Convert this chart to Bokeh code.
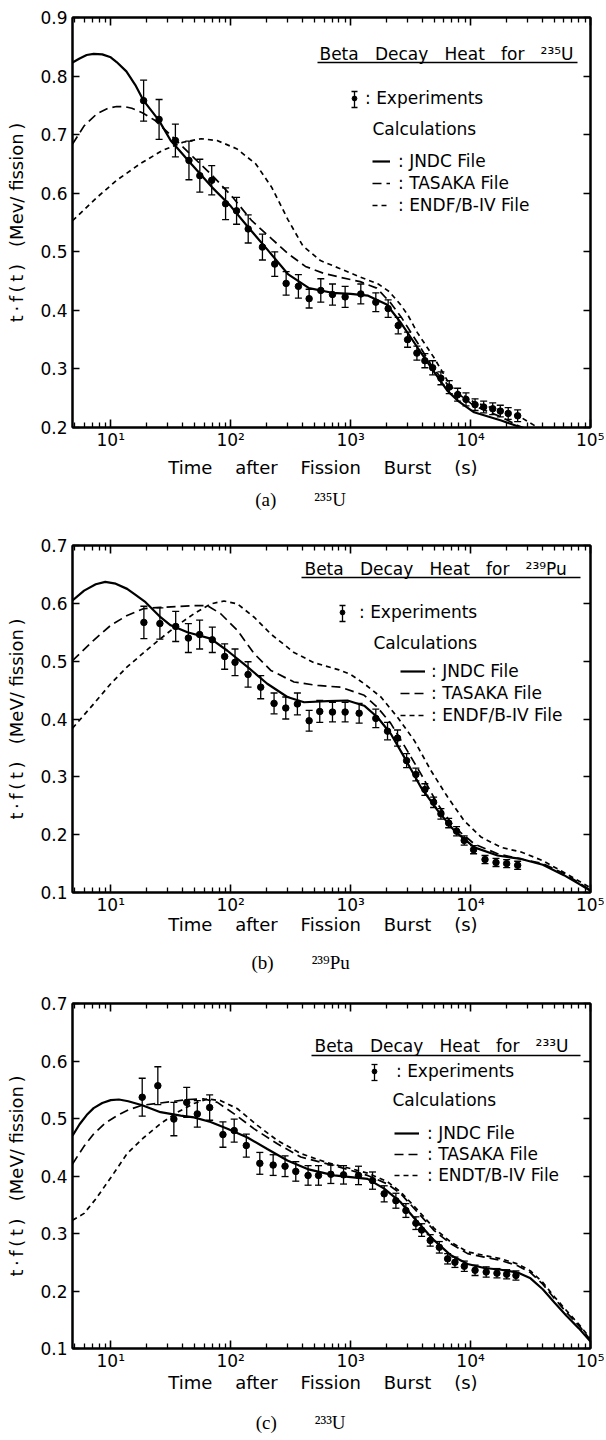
import math
from bokeh.plotting import figure
from bokeh.models import (Range1d, FixedTicker, LinearAxis, LogAxis, Whisker, TeeHead,
                          ColumnDataSource, Label, Arrow, Legend, LegendItem,
                          PrintfTickFormatter, CustomJSTickFormatter)
from bokeh.layouts import column
from bokeh.embed import file_html
from bokeh.resources import INLINE

# ---------------- data ----------------
X_START, X_END = 4.8, 1.0e5

# (a) 235U
A_EXP_T = [18.8, 25.3, 34.6, 44.9, 55.3, 69.5, 90.7, 112, 140, 184, 233, 290, 367, 451, 564, 706, 900,
           1216, 1622, 2056, 2494, 2985, 3570, 4160, 4830, 5660, 6640, 7800, 9160, 10900, 12860, 15300,
           17700, 20600, 24700]
A_EXP_V = [0.758, 0.726, 0.690, 0.656, 0.630, 0.622, 0.582, 0.570, 0.539, 0.508, 0.479, 0.446, 0.441,
           0.420, 0.434, 0.427, 0.423, 0.428, 0.414, 0.403, 0.374, 0.350, 0.327, 0.314, 0.302, 0.284,
           0.269, 0.256, 0.248, 0.239, 0.235, 0.232, 0.228, 0.224, 0.220]
A_EXP_E = [0.035, 0.034, 0.028, 0.033, 0.028, 0.025, 0.027, 0.023, 0.024, 0.022, 0.021, 0.020, 0.020,
           0.016, 0.020, 0.018, 0.018, 0.017, 0.016, 0.015, 0.014, 0.013, 0.012, 0.012, 0.012, 0.011,
           0.011, 0.011, 0.011, 0.010, 0.010, 0.010, 0.010, 0.010, 0.010]
A_JNDC_T = [4.8, 5.5, 6.3, 7.2, 8.5, 10, 11.2, 13.5, 16, 18.8, 25.3, 31.6, 45, 70, 100, 140, 200, 300,
            450, 700, 1000, 1400, 2000, 2600, 3600, 5000, 6400, 7800, 10700, 18000, 24700, 30000]
A_JNDC_V = [0.823, 0.830, 0.836, 0.838, 0.837, 0.832, 0.824, 0.808, 0.785, 0.758, 0.724, 0.690, 0.654,
            0.610, 0.578, 0.542, 0.505, 0.462, 0.438, 0.430, 0.428, 0.425, 0.410, 0.380, 0.337, 0.294,
            0.263, 0.246, 0.226, 0.212, 0.202, 0.195]
A_TASAKA_T = [4.8, 6, 7.7, 9.5, 11.2, 13, 15, 18.5, 23.5, 34, 49, 72, 104, 150, 220, 300, 420, 600, 800,
              1200, 1650, 2150, 2650, 3600, 5000, 6800, 10700, 18000, 25000, 30000]
A_TASAKA_V = [0.684, 0.715, 0.736, 0.745, 0.748, 0.748, 0.745, 0.737, 0.724, 0.693, 0.661, 0.628, 0.593,
              0.553, 0.522, 0.497, 0.475, 0.463, 0.457, 0.449, 0.438, 0.413, 0.388, 0.345, 0.298,
              0.268, 0.237, 0.218, 0.203, 0.197]
A_ENDF_T = [4.8, 7.7, 11.2, 17.5, 27, 40, 57, 77, 112, 162, 220, 300, 400, 560, 800, 1200, 1700, 2100,
            2600, 3000, 3600, 5000, 6900, 10700, 18000, 26000, 35000, 40000]
A_ENDF_V = [0.553, 0.593, 0.622, 0.650, 0.673, 0.687, 0.693, 0.690, 0.676, 0.650, 0.610, 0.555, 0.510,
            0.485, 0.472, 0.457, 0.445, 0.432, 0.410, 0.392, 0.362, 0.318, 0.269, 0.243, 0.229, 0.218,
            0.202, 0.196]

# (b) 239Pu
B_EXP_T = [18.9, 25.7, 34.8, 44.4, 55.1, 70.3, 89.1, 108.7, 139.6, 178, 230, 288, 360, 451, 553, 706,
           900, 1178, 1622, 2031, 2462, 2930, 3500, 4160, 4920, 5660, 6570, 7650, 8850, 10600, 13200,
           16300, 20000, 24700]
B_EXP_V = [0.567, 0.565, 0.560, 0.540, 0.546, 0.537, 0.508, 0.498, 0.477, 0.455, 0.427, 0.419, 0.426,
           0.397, 0.413, 0.412, 0.412, 0.410, 0.401, 0.379, 0.367, 0.328, 0.304, 0.278, 0.256, 0.236,
           0.220, 0.206, 0.190, 0.174, 0.157, 0.152, 0.150, 0.147]
B_EXP_E = [0.028, 0.027, 0.026, 0.025, 0.025, 0.022, 0.022, 0.023, 0.022, 0.020, 0.018, 0.019, 0.019,
           0.018, 0.019, 0.017, 0.017, 0.017, 0.016, 0.015, 0.014, 0.012, 0.011, 0.010, 0.009, 0.009,
           0.008, 0.008, 0.008, 0.007, 0.007, 0.007, 0.007, 0.007]
B_JNDC_T = [4.8, 6, 7.5, 9, 11, 13.7, 16, 19.5, 26, 31.6, 43.6, 68, 94, 138, 202, 297, 409, 641, 942,
            1298, 1675, 2168, 2800, 3855, 5310, 7310, 10740, 16800, 26400, 40000, 60000, 80000, 100000]
B_JNDC_V = [0.605, 0.622, 0.633, 0.637, 0.634, 0.625, 0.615, 0.602, 0.576, 0.562, 0.550, 0.539, 0.518,
            0.490, 0.461, 0.438, 0.429, 0.431, 0.432, 0.423, 0.403, 0.374, 0.334, 0.282, 0.242, 0.207,
            0.178, 0.164, 0.158, 0.148, 0.130, 0.115, 0.103]
B_TASAKA_T = [4.8, 7.2, 10, 13.7, 18.9, 26, 49.4, 64, 82.6, 114, 157, 216, 337, 530, 828, 1298, 1675,
              2168, 2800, 3855, 5310, 7310, 10740, 16800, 26400, 40000, 60000, 80000, 100000]
B_TASAKA_V = [0.501, 0.536, 0.562, 0.579, 0.591, 0.593, 0.596, 0.596, 0.582, 0.553, 0.513, 0.484,
              0.464, 0.458, 0.455, 0.441, 0.420, 0.392, 0.354, 0.305, 0.253, 0.213, 0.184, 0.167,
              0.158, 0.150, 0.133, 0.117, 0.104]
B_ENDF_T = [4.8, 7.2, 10, 13.7, 18.9, 26, 35.9, 49.4, 68, 88, 114, 157, 216, 337, 500, 800, 1000, 1300,
            1790, 2460, 3390, 4670, 6440, 8850, 12200, 17950, 26400, 40000, 70000, 100000]
B_ENDF_V = [0.384, 0.426, 0.461, 0.490, 0.515, 0.539, 0.562, 0.582, 0.599, 0.604, 0.599, 0.576, 0.547,
            0.515, 0.497, 0.485, 0.477, 0.461, 0.438, 0.403, 0.363, 0.311, 0.265, 0.224, 0.196, 0.178,
            0.170, 0.155, 0.127, 0.108]

# (c) 233U
C_EXP_T = [18.3, 24.7, 33.6, 43, 52.7, 66.8, 86.2, 107, 135, 175, 226, 284, 349, 442, 540, 684, 873,
           1164, 1523, 1905, 2385, 2890, 3500, 3910, 4610, 5490, 6440, 7410, 8870, 10900, 13500, 16600,
           20000, 23900]
C_EXP_V = [0.537, 0.557, 0.499, 0.528, 0.508, 0.519, 0.472, 0.479, 0.453, 0.422, 0.419, 0.417, 0.408,
           0.401, 0.401, 0.403, 0.402, 0.401, 0.392, 0.369, 0.357, 0.340, 0.318, 0.306, 0.288, 0.276,
           0.256, 0.250, 0.243, 0.236, 0.233, 0.231, 0.229, 0.227]
C_EXP_E = [0.033, 0.033, 0.029, 0.026, 0.023, 0.022, 0.022, 0.020, 0.020, 0.019, 0.018, 0.018, 0.017,
           0.017, 0.017, 0.016, 0.016, 0.016, 0.015, 0.014, 0.013, 0.012, 0.011, 0.011, 0.010, 0.010,
           0.009, 0.009, 0.009, 0.009, 0.009, 0.008, 0.008, 0.008]
C_JNDC_T = [4.8, 5.5, 6.3, 7.2, 8.5, 10, 11.7, 14, 18.3, 26, 38.3, 49.4, 68, 94, 138, 202, 297, 437,
            728, 1384, 1905, 2624, 3614, 4977, 6855, 9460, 13000, 17950, 24700, 31600, 40000, 50000,
            63000, 80000, 100000]
C_JNDC_V = [0.470, 0.490, 0.506, 0.518, 0.527, 0.532, 0.533, 0.530, 0.523, 0.511, 0.505, 0.502, 0.494,
            0.482, 0.467, 0.447, 0.427, 0.412, 0.401, 0.395, 0.378, 0.354, 0.320, 0.288, 0.262, 0.247,
            0.240, 0.237, 0.232, 0.222, 0.203, 0.180, 0.157, 0.135, 0.112]
C_TASAKA_T = [4.8, 6, 7.2, 9, 11.3, 14, 18.3, 26, 43.6, 60, 77.5, 107, 157, 245, 384, 641, 1000, 1384,
              2031, 2624, 3614, 4977, 6855, 9460, 13000, 17950, 24700, 31600, 40000, 50000, 63000,
              80000, 100000]
C_TASAKA_V = [0.421, 0.452, 0.473, 0.492, 0.505, 0.515, 0.523, 0.527, 0.533, 0.534, 0.528, 0.508,
              0.482, 0.456, 0.433, 0.421, 0.410, 0.401, 0.386, 0.369, 0.337, 0.305, 0.282, 0.265,
              0.259, 0.253, 0.244, 0.232, 0.212, 0.187, 0.163, 0.140, 0.115]
C_ENDF_T = [4.8, 6, 7.5, 10, 13.7, 18.9, 26, 36, 49.4, 64, 82.6, 114, 167, 245, 384, 641, 1000, 1384,
            2031, 2624, 3614, 4977, 6855, 9460, 13000, 17950, 24700, 31600, 40000, 50000, 63000, 80000,
            100000]
C_ENDF_V = [0.323, 0.335, 0.360, 0.397, 0.439, 0.467, 0.491, 0.511, 0.526, 0.534, 0.531, 0.517, 0.488,
            0.462, 0.439, 0.423, 0.413, 0.405, 0.390, 0.372, 0.341, 0.309, 0.285, 0.268, 0.262, 0.256,
            0.247, 0.235, 0.215, 0.190, 0.166, 0.142, 0.117]

X_TICK_LABELS = ["10\u00b9", "10\u00b2", "10\u00b3", "10\u2074", "10\u2075"]

# ---------------- styling / layout ----------------
FONT = "DejaVu Sans"
SERIF = "Liberation Serif"
NB = "\u00a0"
TH = "\u2009"
EM = "\u2003"
X_LABEL = (NB * 4).join(["Time", "after", "Fission", "Burst", "(s)"]) + NB * 3


def style_axis(ax, major_in, minor_in, show_minor=True):
    ax.major_tick_in = major_in
    ax.major_tick_out = 0
    ax.minor_tick_in = minor_in
    ax.minor_tick_out = 0
    ax.axis_line_width = 2
    ax.axis_line_color = "black"
    ax.major_tick_line_width = 1.6
    ax.major_tick_line_color = "black"
    ax.minor_tick_line_width = 1.3
    ax.minor_tick_line_color = "black" if show_minor else None
    ax.major_label_text_font = FONT
    ax.major_label_text_font_size = "17px"
    ax.major_label_text_color = "black"


def make_panel(exp_t, exp_v, exp_e, curves, y0, y1, frame_h, top, bottom, ylabel, caption, L):
    p = figure(x_axis_type="log", x_range=Range1d(X_START, X_END), y_range=Range1d(y0, y1),
               frame_width=518, frame_height=frame_h, min_border_left=72, min_border_right=14,
               min_border_top=top, min_border_bottom=bottom, toolbar_location=None,
               output_backend="svg", background_fill_color="white", border_fill_color="white")
    p.grid.visible = False
    p.outline_line_color = "black"
    p.outline_line_width = 2

    decades = [10.0 ** k for k in range(1, 6)]
    minors = [m * 10.0 ** k for k in range(0, 5) for m in range(2, 10) if X_START <= m * 10.0 ** k <= X_END]
    xt = FixedTicker(ticks=decades, minor_ticks=minors)
    nt = int(round((y1 - y0) / 0.1))
    yt = FixedTicker(ticks=[round(y0 + 0.1 * k, 3) for k in range(nt + 1)], minor_ticks=[])
    empty = CustomJSTickFormatter(code="return ''")

    xa = p.xaxis[0]
    xa.ticker = xt
    xa.major_label_overrides = {d: lab for d, lab in zip(decades, X_TICK_LABELS)}
    style_axis(xa, 8, 5)
    xa.major_label_standoff = 2
    xa.axis_label = X_LABEL
    xa.axis_label_text_font = FONT
    xa.axis_label_text_font_size = "18px"
    xa.axis_label_text_font_style = "normal"
    xa.axis_label_text_color = "black"
    xa.axis_label_standoff = L["xl_off"]

    # caption "(a) 235U" as the title of a tick-less axis under the x axis
    ca = LogAxis(ticker=FixedTicker(ticks=[], minor_ticks=[]), formatter=empty,
                 axis_line_color=None, major_tick_line_color=None, minor_tick_line_color=None,
                 major_label_standoff=0, axis_label=caption, axis_label_text_font=SERIF,
                 axis_label_text_font_size="19px", axis_label_text_font_style="normal",
                 axis_label_text_color="black", axis_label_standoff=L["cap_off"])
    p.add_layout(ca, "below")

    ya = p.yaxis[0]
    ya.ticker = yt
    ya.formatter = PrintfTickFormatter(format="%.1f")
    style_axis(ya, 7, 0, show_minor=False)
    ya.major_label_standoff = 5
    ya.axis_label = ylabel
    ya.axis_label_text_font = FONT
    ya.axis_label_text_font_size = "18px"
    ya.axis_label_text_font_style = "normal"
    ya.axis_label_text_color = "black"
    ya.axis_label_standoff = 10

    ta = LogAxis(ticker=xt, formatter=empty)
    style_axis(ta, 8, 5)
    ta.major_label_standoff = 0
    p.add_layout(ta, "above")
    ra = LinearAxis(ticker=yt, formatter=empty)
    style_axis(ra, 7, 0, show_minor=False)
    ra.major_label_standoff = 0
    p.add_layout(ra, "right")

    # calculated curves
    renderers = []
    for (ct, cv, dash, lw) in curves:
        r = p.line(ct, cv, line_color="black", line_width=lw, line_dash=dash)
        renderers.append(r)

    # experiments
    src = ColumnDataSource(dict(t=exp_t, v=exp_v,
                                hi=[v + e for v, e in zip(exp_v, exp_e)],
                                lo=[v - e for v, e in zip(exp_v, exp_e)]))
    wk = Whisker(source=src, base="t", upper="hi", lower="lo", dimension="height",
                 line_color="black", line_width=1.3,
                 upper_head=TeeHead(size=7, line_width=1.3, line_color="black"),
                 lower_head=TeeHead(size=7, line_width=1.3, line_color="black"))
    p.add_layout(wk)
    r_pts = p.scatter("t", "v", source=src, size=6.5, color="black")

    # legend block
    txt = dict(x_units="screen", y_units="screen", text_font=FONT, text_font_size="17px",
               text_baseline="middle", text_color="black")
    p.add_layout(Label(x=L["head_x"], y=L["head_y"], text=L["head"], **txt))
    p.add_layout(Arrow(x_start=L["ul_x0"], y_start=L["ul_y"], x_end=L["ul_x1"], y_end=L["ul_y"],
                       start_units="screen", end_units="screen", end=None,
                       line_color="black", line_width=1.5))
    p.add_layout(Label(x=L["calc_x"], y=L["calc_y"], text="Calculations", **txt))

    # error-bar symbol of the "Experiments" key
    ex, ey = L["exp_x"], L["exp_y"]
    p.add_layout(Arrow(x_start=ex, y_start=ey - 8, x_end=ex, y_end=ey + 8,
                       start_units="screen", end_units="screen",
                       start=TeeHead(size=6, line_width=1.3, line_color="black"),
                       end=TeeHead(size=6, line_width=1.3, line_color="black"),
                       line_color="black", line_width=1.3))

    leg_common = dict(orientation="vertical", padding=0, margin=0, border_line_color=None,
                      background_fill_alpha=0, label_text_font=FONT, label_text_font_size="17px",
                      label_text_color="black", glyph_height=18, label_height=18)
    exp_leg = Legend(items=[LegendItem(label=": Experiments", renderers=[r_pts])],
                     location=(ex - 6, ey - 9), glyph_width=12,
                     label_standoff=L["exp_gap"], spacing=0, **leg_common)
    p.add_layout(exp_leg)
    names = [": JNDC File", ": TASAKA File", L["endf"]]
    calc_leg = Legend(items=[LegendItem(label=n, renderers=[r]) for n, r in zip(names, renderers)],
                      location=(L["line_x"], L["line_y"] - 10), glyph_width=L["line_w"],
                      label_standoff=L["line_gap"], spacing=int(round(L["pitch"] - 20)), **leg_common)
    p.add_layout(calc_leg)
    return p


SUP = str.maketrans("0123456789", "\u2070\u00b9\u00b2\u00b3\u2074\u2075\u2076\u2077\u2078\u2079")
HEAD = (NB * 3).join(["Beta", "Decay", "Heat", "for"])
YL_T = TH.join(["t", "\u00b7", "f", "(", "t", ")"])


def sup(s):
    return s.translate(SUP)


def caption(tag, mass, sym):
    # trailing spaces shift the centred caption to the left, as in the reference
    return tag + EM * 2 + sup(mass) + sym + NB * 13


LA = dict(head=HEAD + NB * 3 + sup("235") + "U", head_x=247, head_y=374, ul_x0=245, ul_x1=505, ul_y=365,
          exp_x=282, exp_y=328, exp_gap=5, calc_x=300, calc_y=299,
          line_x=300, line_y=222, line_w=18, line_gap=8, pitch=22.5, endf=": ENDF/B-IV File",
          xl_off=4, cap_off=8)
LB = dict(head=HEAD + NB * 3 + sup("239") + "Pu", head_x=232, head_y=324, ul_x0=229, ul_x1=508, ul_y=315,
          exp_x=270, exp_y=279, exp_gap=11, calc_x=301, calc_y=250,
          line_x=328, line_y=177, line_w=25, line_gap=6, pitch=21.7, endf=": ENDF/B-IV File",
          xl_off=-4, cap_off=14)
LC = dict(head=HEAD + NB * 3 + sup("233") + "U", head_x=242, head_y=303, ul_x0=239, ul_x1=508, ul_y=293,
          exp_x=302, exp_y=276, exp_gap=16, calc_x=320, calc_y=249,
          line_x=322, line_y=173, line_w=25, line_gap=8, pitch=20.8, endf=": ENDT/B-IV File",
          xl_off=-2, cap_off=16)

SOLID, LONG, SHORT = "solid", "9 5", "5 4"

pa = make_panel(A_EXP_T, A_EXP_V, A_EXP_E,
                [(A_JNDC_T, A_JNDC_V, SOLID, 2.2), (A_TASAKA_T, A_TASAKA_V, LONG, 1.7),
                 (A_ENDF_T, A_ENDF_V, SHORT, 1.7)],
                0.2, 0.9, 410, 17, 93, YL_T + NB * 3 + "(Mev/" + NB + "fission" + TH + ")",
                caption("(a)", "235", "U"), LA)
pb = make_panel(B_EXP_T, B_EXP_V, B_EXP_E,
                [(B_JNDC_T, B_JNDC_V, SOLID, 2.2), (B_TASAKA_T, B_TASAKA_V, LONG, 1.7),
                 (B_ENDF_T, B_ENDF_V, SHORT, 1.7)],
                0.1, 0.7, 347, 25, 83, YL_T + NB * 3 + "(MeV/" + NB + "fission" + TH + ")",
                caption("(b)", "239", "Pu"), LB)
pc = make_panel(C_EXP_T, C_EXP_V, C_EXP_E,
                [(C_JNDC_T, C_JNDC_V, SOLID, 2.2), (C_TASAKA_T, C_TASAKA_V, LONG, 1.7),
                 (C_ENDF_T, C_ENDF_V, SHORT, 1.7)],
                0.1, 0.7, 345, 28, 90, YL_T + NB * 3 + "(MeV/" + NB + "fission" + TH + ")",
                caption("(c)", "233", "U"), LC)

layout = column(pa, pb, pc, spacing=0)
open("out.html", "w").write(file_html(layout, INLINE))
